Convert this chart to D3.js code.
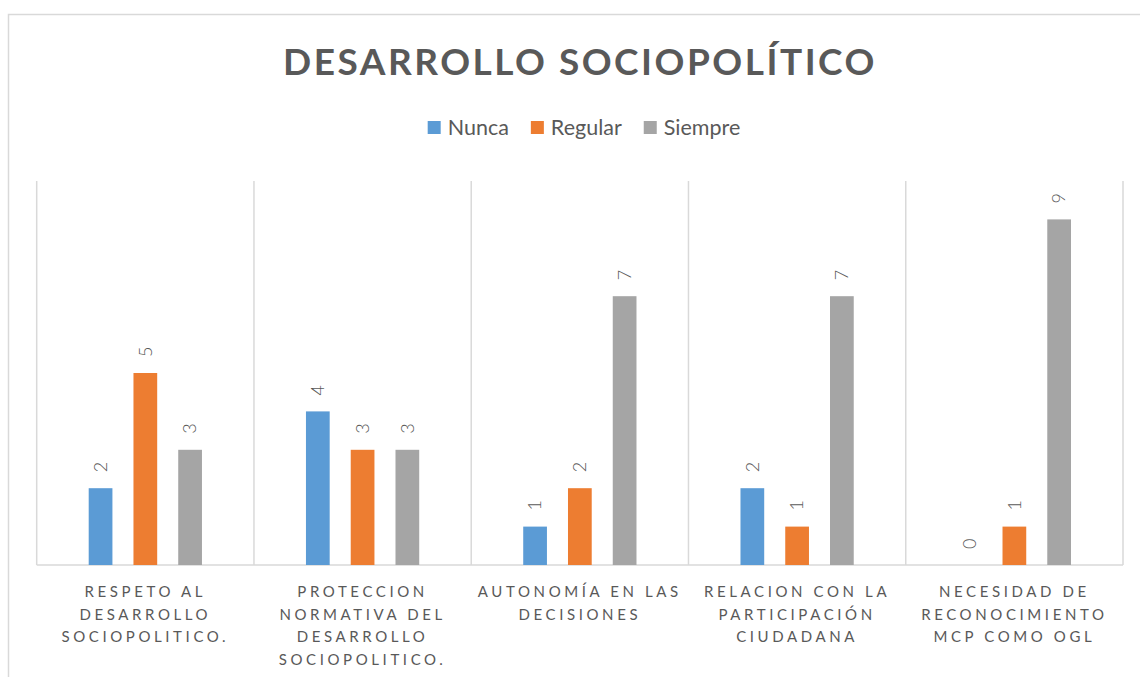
<!DOCTYPE html>
<html>
<head>
<meta charset="utf-8">
<script src="https://cdn.jsdelivr.net/npm/d3@7"></script>
<style>
  body { margin: 0; background: #fff; }
  svg text { font-family: Lato, "Open Sans", sans-serif; fill: #595959; }
</style>
</head>
<body>
<script>
var width = 1140, height = 677;

var categories = [
  ["RESPETO AL", "DESARROLLO", "SOCIOPOLITICO."],
  ["PROTECCION", "NORMATIVA DEL", "DESARROLLO", "SOCIOPOLITICO."],
  ["AUTONOMÍA EN LAS", "DECISIONES"],
  ["RELACION CON LA", "PARTICIPACIÓN", "CIUDADANA"],
  ["NECESIDAD DE", "RECONOCIMIENTO", "MCP COMO OGL"]
];
var series = ["Nunca", "Regular", "Siempre"];
var nunca = [2, 4, 1, 2, 0];
var regular = [5, 3, 2, 1, 1];
var siempre = [3, 3, 7, 7, 9];
var colors = ["#5b9bd5", "#ed7d31", "#a5a5a5"];

var values = [nunca, regular, siempre];
var catIdx = d3.range(categories.length);

var svg = d3.select("body").append("svg")
    .attr("width", width)
    .attr("height", height);

// chart frame
svg.append("rect")
    .attr("x", 8.5).attr("y", 14.5)
    .attr("width", 1160).attr("height", 700)
    .attr("fill", "none")
    .attr("stroke", "#d9d9d9")
    .attr("stroke-width", 1.5);

var x0 = d3.scaleBand().domain(catIdx).range([36.7, 1123]).padding(0);
var side = 52;
var x1 = d3.scaleBand().domain(series)
    .range([side, x0.bandwidth() - side])
    .paddingInner(0.47);
var y = d3.scaleLinear().domain([0, 10]).range([565, 181]);
var color = d3.scaleOrdinal().domain(series).range(colors);

// vertical grid lines at category edges
var edges = catIdx.map(function(i) { return x0(i); }).concat([x0.range()[1]]);
svg.append("g").selectAll("line")
    .data(edges)
    .enter().append("line")
    .attr("x1", function(d) { return d; })
    .attr("x2", function(d) { return d; })
    .attr("y1", y(10))
    .attr("y2", y(0))
    .attr("stroke", "#d9d9d9")
    .attr("stroke-width", 1.5);

// baseline
svg.append("line")
    .attr("x1", x0.range()[0]).attr("x2", x0.range()[1])
    .attr("y1", y(0)).attr("y2", y(0))
    .attr("stroke", "#d9d9d9")
    .attr("stroke-width", 1.5);

var groups = svg.append("g").selectAll("g")
    .data(catIdx)
    .enter().append("g")
    .attr("transform", function(i) { return "translate(" + x0(i) + ",0)"; });

var cells = groups.selectAll("g")
    .data(function(i) {
        return series.map(function(s, k) { return { s: s, v: values[k][i] }; });
    })
    .enter().append("g");

cells.append("rect")
    .attr("x", function(d) { return x1(d.s); })
    .attr("y", function(d) { return y(d.v); })
    .attr("width", x1.bandwidth())
    .attr("height", function(d) { return y(0) - y(d.v); })
    .attr("fill", function(d) { return color(d.s); });

cells.append("text")
    .attr("transform", function(d) {
        return "translate(" + (x1(d.s) + x1.bandwidth() / 2) + "," + (y(d.v) - 16) + ") rotate(-90)";
    })
    .attr("dy", "0.35em")
    .attr("font-size", 18)
    .attr("font-weight", 300)
    .text(function(d) { return d.v; });

// category labels
groups.append("text")
    .attr("text-anchor", "middle")
    .attr("font-size", 15)
    .attr("letter-spacing", "3.6px")
    .selectAll("tspan")
    .data(function(i) { return categories[i]; })
    .enter().append("tspan")
    .attr("x", x0.bandwidth() / 2)
    .attr("y", function(d, j) { return 597 + j * 22.7; })
    .text(function(d) { return d; });

// title
svg.append("text")
    .attr("x", 580)
    .attr("y", 75)
    .attr("text-anchor", "middle")
    .attr("font-size", 37)
    .attr("font-weight", "bold")
    .attr("letter-spacing", "2.5px")
    .text("DESARROLLO SOCIOPOLÍTICO");

// legend
var legend = svg.append("g");
var lx = 0;
series.forEach(function(s) {
    var item = legend.append("g").attr("transform", "translate(" + lx + ",0)");
    item.append("rect")
        .attr("x", 0).attr("y", 121)
        .attr("width", 13).attr("height", 13)
        .attr("fill", color(s));
    var t = item.append("text")
        .attr("x", 20).attr("y", 135)
        .attr("font-size", 21.5)
        .text(s);
    lx += 20 + t.node().getComputedTextLength() + 22;
});
lx -= 22;
legend.attr("transform", "translate(" + (584 - lx / 2) + ",0)");
</script>
</body>
</html>
